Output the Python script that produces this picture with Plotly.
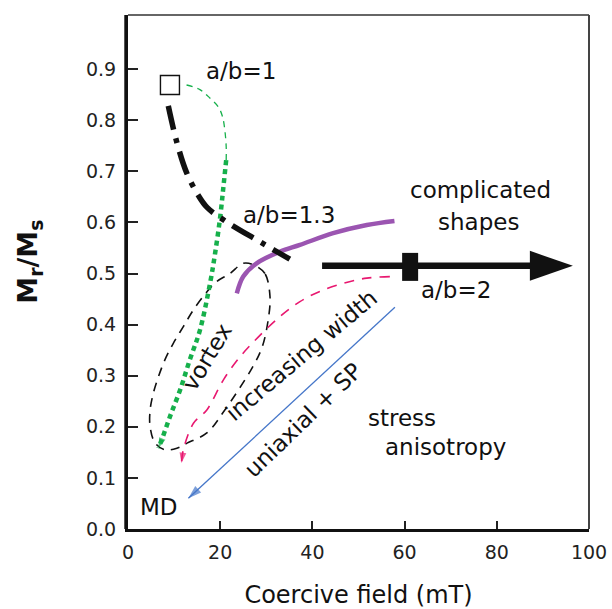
import plotly.graph_objects as go

# ---------------- data ----------------
# open square: a/b = 1 start point
start_sq_x = [9.1]
start_sq_y = [0.869]

# thick black dash-dot curve (a/b = 1 -> a/b = 1.3)
dd_x = [8.74, 10.56, 12.73, 15.25, 17.2, 21.4, 27.9, 31.5, 35.1]
dd_y = [0.828, 0.758, 0.697, 0.653, 0.629, 0.601, 0.566, 0.547, 0.528]

# green thin dashed part
gthin_x = [12.7, 15.6, 17.8, 19.6, 20.5, 21.0, 21.3, 21.3]
gthin_y = [0.869, 0.860, 0.843, 0.826, 0.807, 0.781, 0.748, 0.722]

# green thick dotted part (ends with arrow)
gdot_x = [21.3, 20.7, 20.0, 18.9, 17.8, 15.6, 13.4, 11.3, 9.1, 7.3, 6.6]
gdot_y = [0.722, 0.670, 0.611, 0.540, 0.481, 0.389, 0.331, 0.272, 0.220, 0.174, 0.158]

# black thin dashed loop (vortex)
loop_x = [30.8, 29.7, 27.2, 25.0, 22.1, 19.2, 17.1, 14.2, 12.0, 9.8, 8.0, 6.6,
          5.5, 4.8, 4.8, 5.9, 8.0, 10.6, 12.8, 17.1, 21.0, 26.9, 29.1, 30.4, 30.8]
loop_y = [0.455, 0.500, 0.517, 0.520, 0.500, 0.484, 0.464, 0.429, 0.396, 0.363, 0.331, 0.298,
          0.266, 0.233, 0.200, 0.168, 0.155, 0.158, 0.168, 0.188, 0.233, 0.315, 0.356, 0.409, 0.455]

# purple curve (a/b = 1.3 -> complicated shapes)
purple_x = [23.6, 25.0, 27.9, 33.0, 37.3, 44.5, 51.8, 57.8]
purple_y = [0.461, 0.494, 0.520, 0.543, 0.556, 0.579, 0.595, 0.603]

# pink dashed curve (increasing width)
pink_x = [56.8, 51.8, 46.7, 41.6, 37.3, 33.0, 28.3, 24.3, 20.7, 17.1, 14.2, 12.0, 11.6]
pink_y = [0.494, 0.491, 0.481, 0.465, 0.445, 0.416, 0.376, 0.337, 0.292, 0.233, 0.207, 0.155, 0.129]

# blue straight line (uniaxial + SP -> MD)
blue_x = [57.9, 13.1]
blue_y = [0.434, 0.060]

# big black arrow (a/b = 2)
big_arrow_x = [42.1, 96.5]
big_arrow_y = [0.515, 0.515]
big_arrow_base_x = 89.0
ab2_marker_x = [61.2]
ab2_marker_y = [0.513]

x_ticks = [0, 20, 40, 60, 80, 100]
y_ticks = [0.0, 0.1, 0.2, 0.3, 0.4, 0.5, 0.6, 0.7, 0.8, 0.9]
y_ticktext = ["0.0", "0.1", "0.2", "0.3", "0.4", "0.5", "0.6", "0.7", "0.8", "0.9"]

labels = [
    # text, x, y, angle
    ("a/b=1", 24.5, 0.896, 0),
    ("a/b=1.3", 34.9, 0.614, 0),
    ("complicated", 76.4, 0.663, 0),
    ("shapes", 76.0, 0.601, 0),
    ("a/b=2", 71.2, 0.468, 0),
    ("vortex", 17.1, 0.337, -59),
    ("increasing width", 37.7, 0.340, -40),
    ("uniaxial + SP", 38.0, 0.213, -44),
    ("stress", 59.5, 0.217, 0),
    ("anisotropy", 68.8, 0.160, 0),
    ("MD", 6.7, 0.043, 0),
]

# ---------------- figure ----------------
TXT_FONT = "DejaVu Sans"
GREEN = "#16b04b"
PINK = "#e8176f"
PURPLE = "#9b55b1"
BLUE = "#4576c9"

fig = go.Figure()

# black dashed loop
fig.add_trace(go.Scatter(x=loop_x, y=loop_y, mode="lines",
                         line=dict(color="#111", width=1.6, dash="9px,7px", shape="spline", smoothing=1.0),
                         hoverinfo="skip"))
# pink dashed
fig.add_trace(go.Scatter(x=pink_x, y=pink_y, mode="lines",
                         line=dict(color=PINK, width=1.6, dash="10px,8px", shape="spline", smoothing=1.0),
                         hoverinfo="skip"))
fig.add_trace(go.Scatter(x=pink_x[-2:], y=pink_y[-2:], mode="markers",
                         marker=dict(symbol="arrow", angleref="previous", size=[0, 11], color=PINK,
                                     line=dict(width=0)),
                         hoverinfo="skip"))
# blue line
fig.add_trace(go.Scatter(x=blue_x, y=blue_y, mode="lines",
                         line=dict(color=BLUE, width=1.3), hoverinfo="skip"))
fig.add_trace(go.Scatter(x=blue_x, y=blue_y, mode="markers",
                         marker=dict(symbol="arrow", angleref="previous", size=[0, 14], color=BLUE,
                                     line=dict(width=0)),
                         hoverinfo="skip"))
# purple
fig.add_trace(go.Scatter(x=purple_x, y=purple_y, mode="lines",
                         line=dict(color=PURPLE, width=4.5, shape="spline", smoothing=1.0),
                         hoverinfo="skip"))
# green thin dashed
fig.add_trace(go.Scatter(x=gthin_x, y=gthin_y, mode="lines",
                         line=dict(color=GREEN, width=1.3, dash="6px,5px", shape="spline", smoothing=1.0),
                         hoverinfo="skip"))
# green thick dotted
fig.add_trace(go.Scatter(x=gdot_x, y=gdot_y, mode="lines",
                         line=dict(color=GREEN, width=4.5, dash="5px,4px", shape="spline", smoothing=1.0),
                         hoverinfo="skip"))
fig.add_trace(go.Scatter(x=gdot_x[-2:], y=gdot_y[-2:], mode="markers",
                         marker=dict(symbol="arrow", angleref="previous", size=[0, 11], color=GREEN,
                                     line=dict(width=0)),
                         hoverinfo="skip"))
# black dash-dot thick
fig.add_trace(go.Scatter(x=dd_x, y=dd_y, mode="lines",
                         line=dict(color="#111", width=5.5, dash="24px,9px,5px,9px", shape="spline", smoothing=1.0),
                         hoverinfo="skip"))
# open square
fig.add_trace(go.Scatter(x=start_sq_x, y=start_sq_y, mode="markers",
                         marker=dict(symbol="square-open", size=19, color="#111", line=dict(width=1.4)),
                         hoverinfo="skip"))
# big black arrow shaft
fig.add_trace(go.Scatter(x=[big_arrow_x[0], big_arrow_base_x], y=big_arrow_y, mode="lines",
                         line=dict(color="#111", width=6.5), hoverinfo="skip"))

shapes = []
# arrow head (pixel-sized, anchored at the tip)
shapes.append(dict(type="path", xref="x", yref="y", xsizemode="pixel", ysizemode="pixel",
                   xanchor=big_arrow_x[1], yanchor=big_arrow_y[1],
                   path="M0,0 L-43,15 L-43,-15 Z", fillcolor="#111", line=dict(width=0)))
# a/b = 2 block marker
shapes.append(dict(type="rect", xref="x", yref="y", xsizemode="pixel", ysizemode="pixel",
                   xanchor=ab2_marker_x[0], yanchor=ab2_marker_y[0],
                   x0=-8, x1=8, y0=-14, y1=14, fillcolor="#111", line=dict(width=0)))
# frame: thin top and right lines
shapes.append(dict(type="line", xref="paper", yref="paper", x0=0, x1=1, y0=1, y1=1,
                   line=dict(color="#333", width=1.6)))
shapes.append(dict(type="line", xref="paper", yref="paper", x0=1, x1=1, y0=0, y1=1,
                   line=dict(color="#444", width=2)))
# thin doubled line just left of y axis
shapes.append(dict(type="line", xref="paper", yref="paper", xsizemode="pixel", xanchor=0,
                   x0=-3.5, x1=-3.5, y0=0, y1=1, line=dict(color="#555", width=1)))

annotations = []
for txt, x, y, ang in labels:
    annotations.append(dict(x=x, y=y, xref="x", yref="y", text=txt, showarrow=False,
                            textangle=ang, font=dict(family=TXT_FONT, size=23, color="#111"),
                            xanchor="center", yanchor="middle"))
# y-axis title
annotations.append(dict(x=-0.2126, y=0.52, xref="paper", yref="paper",
                        text="<b>M<sub>r</sub>/M<sub>s</sub></b>", showarrow=False, textangle=-90,
                        font=dict(family=TXT_FONT, size=27, color="#111"),
                        xanchor="center", yanchor="middle"))

fig.update_layout(
    width=612, height=609,
    margin=dict(l=128, r=23, t=15, b=80, autoexpand=False),
    paper_bgcolor="white", plot_bgcolor="white",
    showlegend=False,
    shapes=shapes,
    annotations=annotations,
    xaxis=dict(range=[0, 100], tickvals=x_ticks, ticks="inside", ticklen=8, tickwidth=1.5,
               tickcolor="#222", showline=True, linewidth=3, linecolor="#111",
               showgrid=False, zeroline=False, automargin=False,
               tickfont=dict(family="DejaVu Sans", size=19, color="#222"),
               ticklabelstandoff=4,
               title=dict(text="Coercive field (mT)", font=dict(family=TXT_FONT, size=24, color="#111"),
                          standoff=31)),
    yaxis=dict(range=[0, 1.006], tickvals=y_ticks, ticktext=y_ticktext, ticks="inside",
               ticklen=10, tickwidth=1.5, tickcolor="#222", showline=True, linewidth=3,
               linecolor="#111", showgrid=False, zeroline=False, automargin=False,
               tickfont=dict(family="DejaVu Sans", size=19, color="#222"),
               ticklabelstandoff=5),
)

fig.write_html("out.html")
